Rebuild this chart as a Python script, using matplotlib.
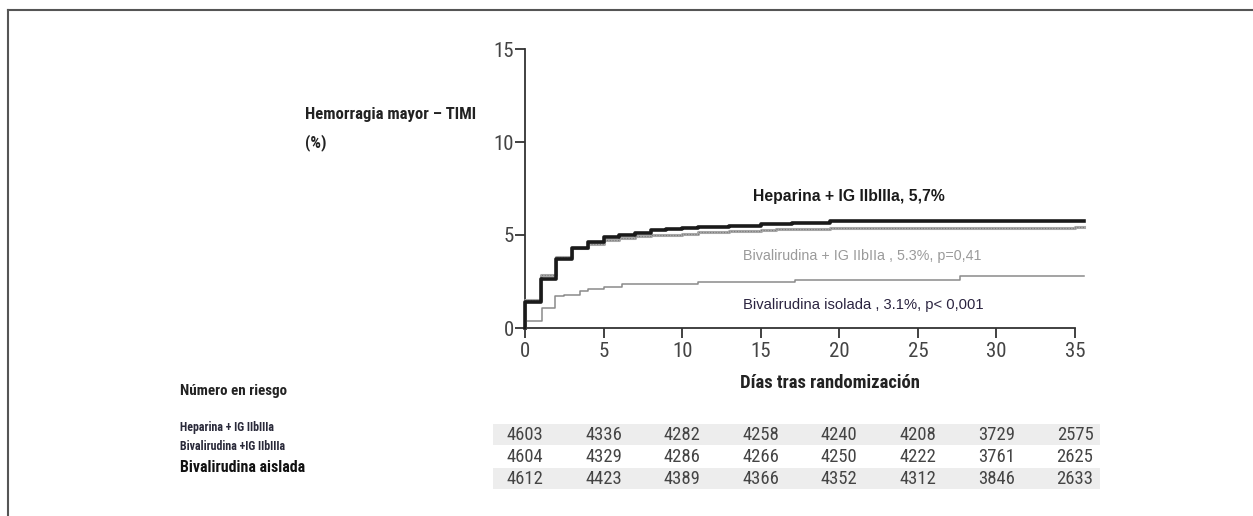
import matplotlib
matplotlib.use("Agg")
import matplotlib.pyplot as plt
from matplotlib.patches import Rectangle
from matplotlib.lines import Line2D
import matplotlib.transforms as mtransforms
from matplotlib import font_manager

# ---------------- data ----------------
hep_t = [0, 0, 1, 2, 3, 4, 5, 6, 7, 8, 9, 10, 11, 13, 15, 17, 19.4, 35.6]
hep_y = [0, 1.4, 2.65, 3.7, 4.3, 4.6, 4.9, 5.0, 5.1, 5.25, 5.3, 5.38, 5.45, 5.5, 5.57, 5.62, 5.73, 5.75]

bivig_t = [0, 0, 1, 2, 3, 4, 5, 6, 7, 8, 10, 11, 13, 15, 16, 19.4, 35.0, 35.6]
bivig_y = [0, 1.5, 2.85, 3.8, 4.3, 4.5, 4.75, 4.85, 4.95, 5.0, 5.05, 5.15, 5.2, 5.25, 5.3, 5.36, 5.45, 5.45]

biv_t = [0, 0, 1.05, 1.9, 2.5, 3.5, 4, 5, 6.2, 11, 11.3, 17.2, 27.7, 35.6]
biv_y = [0, 0.35, 1.1, 1.7, 1.8, 2.0, 2.1, 2.2, 2.35, 2.45, 2.5, 2.6, 2.8, 2.8]

xticks = [0, 5, 10, 15, 20, 25, 30, 35]
yticks = [0, 5, 10, 15]

risk_hep = [4603, 4336, 4282, 4258, 4240, 4208, 3729, 2575]
risk_bivig = [4604, 4329, 4286, 4266, 4250, 4222, 3761, 2625]
risk_biv = [4612, 4423, 4389, 4366, 4352, 4312, 3846, 2633]

row_labels = ["Heparina + IG IIbIIIa", "Bivalirudina +IG IIbIIIa", "Bivalirudina aislada"]

# ---------------- fonts ----------------
names = {f.name for f in font_manager.fontManager.ttflist}
narrow_name = None
for cand in ["Liberation Sans Narrow", "Roboto Condensed", "Open Sans Condensed",
             "Noto Sans Condensed", "DejaVu Sans Condensed"]:
    if cand in names:
        narrow_name = cand
        break
cond_stretch = "normal"
if narrow_name is None:
    for f in font_manager.fontManager.ttflist:
        st = str(f.stretch).lower()
        if ("condensed" in st or st in ("75", "62", "50", "87")) and f.name in (
                "Noto Sans", "Open Sans", "Roboto", "Liberation Sans", "DejaVu Sans", "Inter"):
            narrow_name = f.name
            cond_stretch = "condensed"
            break
if narrow_name is None:
    narrow_name = "Liberation Sans"

NARROW = [narrow_name, "DejaVu Sans"]
SANS = ["Liberation Sans", "DejaVu Sans"]

# ---------------- figure ----------------
W, H = 1253, 516
fig = plt.figure(figsize=(W / 100, H / 100), dpi=100)
fig.patch.set_facecolor("white")

def fx(x):
    return x / W

def fy(y):
    return 1 - y / H

def ntext(x, y, s, size, weight="normal", color="#222222", ha="left", transform=None):
    kw = dict(ha=ha, va="center", fontsize=size, fontweight=weight, family=NARROW,
              color=color, fontstretch=cond_stretch)
    if transform is not None:
        kw["transform"] = transform
    return fig.text(x, y, s, **kw)

# border lines (top and left)
fig.add_artist(Line2D([fx(8), fx(W)], [fy(10), fy(10)], transform=fig.transFigure, color="#555555", lw=1.5))
fig.add_artist(Line2D([fx(8), fx(8)], [fy(10), fy(H)], transform=fig.transFigure, color="#555555", lw=1.5))

ax_left, ax_right = 525, 1075
ax_bottom, ax_top = 328, 49
ax = fig.add_axes([fx(ax_left), fy(ax_bottom), (ax_right - ax_left) / W, (ax_bottom - ax_top) / H])
ax.set_xlim(0, 35)
ax.set_ylim(0, 15)
for s in ["top", "right"]:
    ax.spines[s].set_visible(False)
for s in ["left", "bottom"]:
    ax.spines[s].set_color("#333333")
    ax.spines[s].set_linewidth(1.3)
ax.set_xticks(xticks)
ax.set_yticks(yticks)
ax.tick_params(axis="both", length=7, width=1.3, color="#333333", labelcolor="#444444", labelsize=15)
ax.tick_params(axis="y", pad=1)
ax.tick_params(axis="x", pad=3)
for lab in ax.get_xticklabels() + ax.get_yticklabels():
    lab.set_family(NARROW)
    lab.set_stretch(cond_stretch)

ax.step(biv_t, biv_y, where="post", color="#8a8a8a", lw=1.1, clip_on=False, zorder=3)
ax.step(bivig_t, bivig_y, where="post", color="#a8a8a8", lw=2.2, clip_on=False, zorder=4)
ax.step(bivig_t, bivig_y, where="post", color="#7a7a7a", lw=0.8, ls=(0, (1, 1.5)), clip_on=False, zorder=4)
ax.step(hep_t, hep_y, where="post", color="#1a1a1a", lw=2.6, clip_on=False, zorder=5)

# annotations
fig.text(fx(849), fy(197), "Heparina + IG IIbIIIa, 5,7%", ha="center", va="center",
         fontsize=11.3, fontweight="bold", family=SANS, color="#1a1a1a")
fig.text(fx(862), fy(256), "Bivalirudina + IG IIbIIa , 5.3%, p=0,41", ha="center", va="center",
         fontsize=10.3, family=SANS, color="#9a9a9a")
fig.text(fx(863), fy(305), "Bivalirudina isolada , 3.1%, p< 0,001", ha="center", va="center",
         fontsize=10.6, family=SANS, color="#2b2440")

# y label
ntext(fx(305), fy(115), "Hemorragia mayor – TIMI", 12, "bold")
ntext(fx(305), fy(143), "(%)", 12, "bold")

# x label
ntext(fx(830), fy(383), "Días tras randomización", 13.4, "bold", ha="center")

# risk table
ntext(fx(180), fy(391), "Número en riesgo", 10.8, "bold")
ntext(fx(180), fy(428), row_labels[0], 8.6, "bold", color="#2a2a3a")
ntext(fx(180), fy(447), row_labels[1], 8.6, "bold", color="#2a2a3a")
ntext(fx(180), fy(467), row_labels[2], 11.4, "bold", color="#111111")

fig.add_artist(Rectangle((fx(493), fy(445)), (1100 - 493) / W, 21 / H, transform=fig.transFigure,
                         facecolor="#ededed", edgecolor="none", zorder=0))
fig.add_artist(Rectangle((fx(493), fy(489)), (1100 - 493) / W, 21 / H, transform=fig.transFigure,
                         facecolor="#ededed", edgecolor="none", zorder=0))

trans = mtransforms.blended_transform_factory(ax.transData, fig.transFigure)
for row, ypix in zip([risk_hep, risk_bivig, risk_biv], [435, 457, 479]):
    for xv, val in zip(xticks, row):
        ntext(xv, fy(ypix), str(val), 13.4, color="#444444", ha="center", transform=trans)

fig.savefig("out.png", dpi=100, facecolor="white")
